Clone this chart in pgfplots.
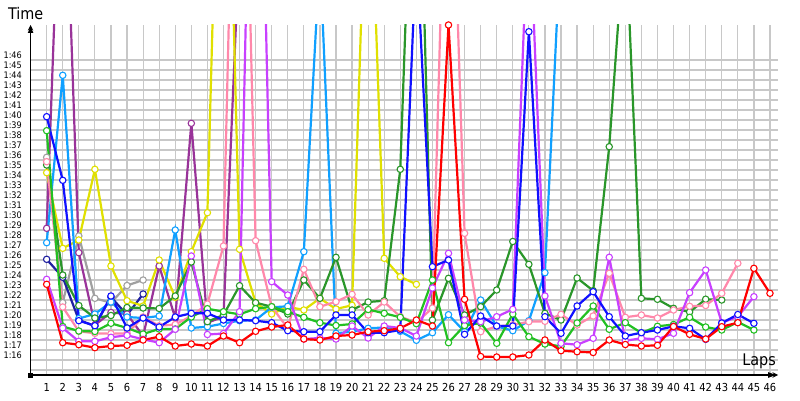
\documentclass[border=0pt]{standalone}
\usepackage{fontspec}
\setmainfont{DejaVu Sans Condensed}
\usepackage{pgfplots}
\pgfplotsset{compat=1.18}
\usetikzlibrary{arrows.meta}
\definecolor{cRed}{HTML}{FF0000}
\definecolor{cViolet}{HTML}{C840FF}
\definecolor{cBlue}{HTML}{1010FF}
\definecolor{cNavy}{HTML}{2020A0}
\definecolor{cLime}{HTML}{22C022}
\definecolor{cDGreen}{HTML}{2A962A}
\definecolor{cLBlue}{HTML}{10A0FF}
\definecolor{cPink}{HTML}{FF88AA}
\definecolor{cYellow}{HTML}{E0E000}
\definecolor{cGray}{HTML}{A0A0A0}
\definecolor{cPurple}{HTML}{993399}
\definecolor{cGrid}{HTML}{C8C8C8}
\begin{document}
\begin{tikzpicture}[x=1pt,y=1pt]
\useasboundingbox (0,0) rectangle (800,400);
\begin{axis}[name=main,
  at={(30.6pt,25pt)}, anchor=south west, scale only axis,
  width=747.4pt, height=350pt,
  xmin=0, xmax=46.5, ymin=74.5, ymax=109.5,
  axis x line=bottom, axis y line=left,
  axis line style={line width=1.4pt, black},
  xtick={1,...,46}, ytick={75,...,106},
  yticklabels={,1:16,1:17,1:18,1:19,1:20,1:21,1:22,1:23,1:24,1:25,1:26,1:27,1:28,1:29,1:30,1:31,1:32,1:33,1:34,1:35,1:36,1:37,1:38,1:39,1:40,1:41,1:42,1:43,1:44,1:45,1:46},
  /pgf/number format/assume math mode=true,
  major tick length=0pt,
  grid=major,
  major grid style={cGrid, line width=1.2pt},
  xticklabel style={font=\fontsize{11}{11}\selectfont, anchor=center, yshift=-12.5pt, inner sep=0pt},
  yticklabel style={font=\fontsize{9}{9}\selectfont, anchor=east, xshift=-8.6pt, yshift=5pt, inner sep=0pt},
  xlabel={Laps}, ylabel={Time},
  xlabel style={font=\fontsize{16}{16}\selectfont, at={(rel axis cs:1,0)}, anchor=south east, inner sep=0pt, yshift=6pt, xshift=-2pt},
  ylabel style={font=\fontsize{16}{16}\selectfont, rotate=-90, at={(rel axis cs:0,1)}, anchor=south, inner sep=0pt, yshift=5pt, xshift=-5pt},
  every axis plot/.append style={line width=2.2pt, mark=*, mark size=3.2pt, mark options={fill=white, line width=1.1pt}},
]
\addplot[cGray] coordinates {(1,96.27)(2,81.73)(3,88.4)(4,82.17)(5,81.73)(6,83.45)(7,84.0)};
\addplot[cNavy] coordinates {(1,86.07)(2,84.27)(3,80.0)(4,79.4)(5,82.3)(6,80.5)(7,82.6)};
\addplot[cPurple] coordinates {(1,89.17)(2,133)(3,86.73)(4,79.5)(5,80.75)(6,80.6)(7,78.4)(8,85.4)(9,80.2)(10,99.67)(11,79.73)(12,80.33)(13,118)};
\addplot[cYellow] coordinates {(1,94.73)(2,87.17)(3,88.0)(4,95.07)(5,85.4)(6,81.93)(7,81.4)(8,86.0)(9,82.27)(10,86.83)(11,90.73)(12,150)(13,87.07)(14,81.73)(15,80.6)(16,81.33)(17,81.0)(18,82.17)(19,81.1)(20,81.47)(21,132)(22,86.17)(23,84.33)(24,83.57)};
\addplot[cLBlue] coordinates {(1,87.73)(2,104.47)(3,80.15)(4,80.6)(5,81.8)(6,80.3)(7,80.2)(8,80.4)(9,89.0)(10,79.2)(11,79.33)(12,79.65)(13,79.93)(14,80.0)(15,81.27)(16,81.37)(17,86.83)(18,116.4)(19,78.67)(20,78.83)(21,79.17)(22,79.25)(23,78.87)(24,77.97)(25,78.73)(26,80.53)(27,78.83)(28,82.0)(29,79.37)(30,78.93)(31,79.93)(32,84.73)(33,118.5)};
\addplot[cDGreen] coordinates {(1,95.5)(2,84.5)(3,81.45)(4,80.2)(5,80.45)(6,81.25)(7,81.2)(8,81.15)(9,82.4)(10,85.8)(11,79.83)(12,80.5)(13,83.43)(14,81.73)(15,81.33)(16,80.6)(17,84.0)(18,82.17)(19,86.27)(20,81.0)(21,81.8)(22,81.93)(23,95.07)(24,140)(25,80.0)(26,84.17)(27,80.5)(28,81.33)(29,83.0)(30,87.85)(31,85.57)(32,80.67)(33,80.0)(34,84.2)(35,82.93)(36,97.33)(37,119.5)(38,82.17)(39,82.07)(40,81.17)(41,80.8)(42,82.08)(43,82.0)};
\addplot[cPink] coordinates {(1,95.83)(2,81.3)(3,78.87)(4,78.67)(5,78.63)(6,78.67)(7,80.3)(8,79.42)(9,79.55)(10,80.4)(11,81.6)(12,87.4)(13,155)(14,87.93)(15,81.33)(16,79.17)(17,85.07)(18,81.33)(19,81.83)(20,82.57)(21,80.5)(22,81.8)(23,80.33)(24,79.75)(25,81.2)(26,139)(27,88.67)(28,78.83)(29,79.37)(30,79.5)(31,79.83)(32,79.87)(33,80.57)(34,79.5)(35,80.4)(36,84.67)(37,80.27)(38,80.5)(39,80.2)(40,81.0)(41,81.37)(42,81.45)(43,82.67)(44,85.67)};
\addplot[cLime] coordinates {(1,98.93)(2,79.35)(3,78.9)(4,78.85)(5,79.67)(6,79.2)(7,78.6)(8,79.1)(9,79.1)(10,80.3)(11,81.13)(12,80.83)(13,80.57)(14,81.13)(15,81.33)(16,80.83)(17,80.27)(18,79.73)(19,79.45)(20,79.6)(21,81.05)(22,80.67)(23,80.27)(24,79.63)(25,84.0)(26,77.73)(27,79.45)(28,79.7)(29,77.67)(30,80.6)(31,78.33)(32,77.6)(33,77.37)(34,79.7)(35,81.4)(36,79.07)(37,79.73)(38,78.7)(39,79.37)(40,79.55)(41,80.27)(42,79.3)(43,79.0)(44,79.8)(45,79.0)};
\addplot[cViolet] coordinates {(1,84.07)(2,79.2)(3,77.87)(4,77.87)(5,78.27)(6,78.47)(7,78.07)(8,77.73)(9,79.07)(10,86.4)(11,78.55)(12,78.65)(13,80.83)(14,156)(15,83.83)(16,82.5)(17,78.1)(18,78.2)(19,78.1)(20,79.4)(21,78.2)(22,79.4)(23,79.2)(24,78.4)(25,83.2)(26,86.67)(27,80.0)(28,79.83)(29,80.33)(30,81.07)(31,122)(32,82.4)(33,77.67)(34,77.53)(35,78.17)(36,86.27)(37,77.93)(38,78.17)(39,78.07)(40,78.67)(41,82.73)(42,85.0)(43,79.73)(44,80.33)(45,82.33)};
\addplot[cBlue] coordinates {(1,100.33)(2,93.97)(3,79.93)(4,79.43)(5,82.4)(6,79.2)(7,80.2)(8,79.3)(9,80.3)(10,80.67)(11,80.67)(12,80.0)(13,80.0)(14,79.93)(15,79.73)(16,78.93)(17,78.83)(18,78.83)(19,80.5)(20,80.5)(21,78.73)(22,78.73)(23,79.0)(24,117)(25,85.33)(26,86.0)(27,78.57)(28,80.4)(29,79.4)(30,79.4)(31,108.83)(32,80.33)(33,78.67)(34,81.4)(35,82.83)(36,80.33)(37,78.4)(38,78.73)(39,79.0)(40,79.37)(41,79.17)(42,78.07)(43,79.7)(44,80.55)(45,79.67)};
\addplot[cRed] coordinates {(1,83.57)(2,77.73)(3,77.53)(4,77.23)(5,77.4)(6,77.47)(7,78.0)(8,78.33)(9,77.4)(10,77.6)(11,77.4)(12,78.4)(13,77.73)(14,78.87)(15,79.3)(16,79.5)(17,78.1)(18,78.0)(19,78.4)(20,78.5)(21,78.83)(22,78.93)(23,79.17)(24,80.0)(25,79.4)(26,109.5)(27,82.07)(28,76.35)(29,76.3)(30,76.3)(31,76.5)(32,78.0)(33,76.93)(34,76.83)(35,76.75)(36,78.0)(37,77.55)(38,77.4)(39,77.47)(40,79.35)(41,78.57)(42,78.1)(43,79.33)(44,79.73)(45,85.17)(46,82.67)};
\end{axis}
\draw[line width=1.4pt, -{Latex[length=8pt,width=6pt]}] (main.south west) -- (main.north west);
\draw[line width=1.4pt, -{Latex[length=10pt,width=6pt]}] (main.south west) -- (main.south east);
\fill ([shift={(-2.5pt,-2.5pt)}]main.south west) rectangle ([shift={(2.5pt,2.5pt)}]main.south west);
\end{tikzpicture}
\end{document}
